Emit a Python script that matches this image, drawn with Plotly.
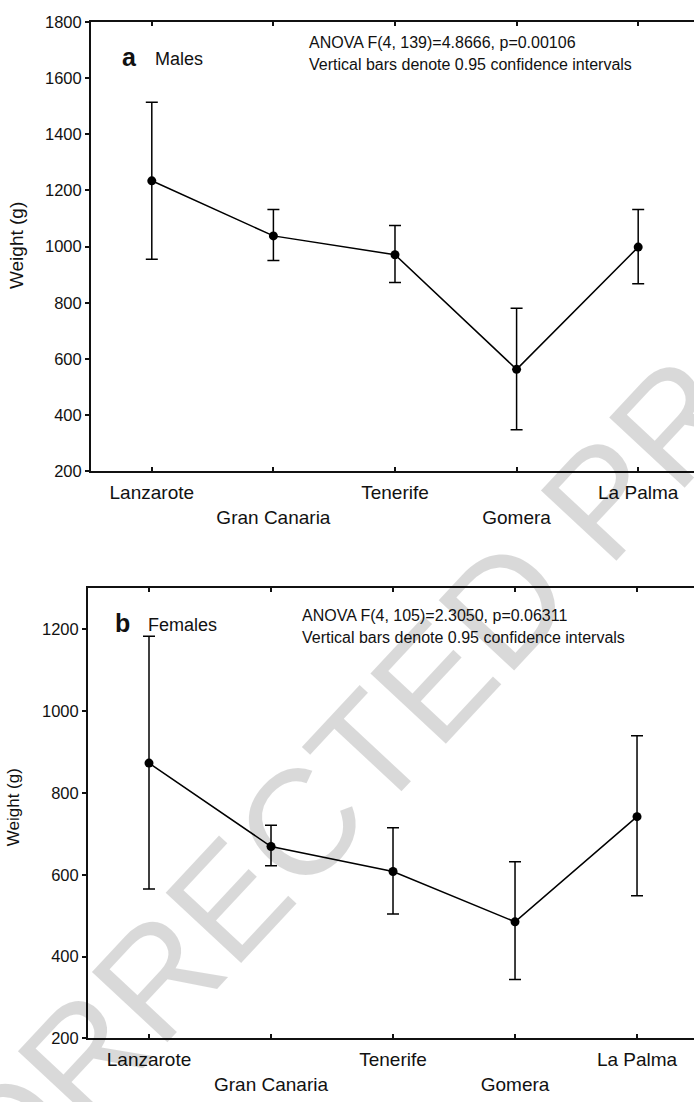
import plotly.graph_objects as go

W, H = 694, 1102

islands = ["Lanzarote", "Gran Canaria", "Tenerife", "Gomera", "La Palma"]
tick_text = ["Lanzarote", " <br>Gran Canaria", "Tenerife", " <br>Gomera", "La Palma"]
x_pos = [0, 1, 2, 3, 4]

males_mean = [1234, 1038, 971, 563, 998]
males_upper = [1514, 1132, 1075, 780, 1132]
males_lower = [955, 950, 872, 348, 868]

females_mean = [873, 669, 608, 485, 742]
females_upper = [1183, 721, 715, 632, 940]
females_lower = [565, 622, 504, 344, 549]

y_ticks_top = [200, 400, 600, 800, 1000, 1200, 1400, 1600, 1800]
y_ticks_bottom = [200, 400, 600, 800, 1000, 1200]

FONT = "Arial, Liberation Sans, sans-serif"


def px(x):
    return x / W


def py(y):
    return 1 - y / H


def trace(mean, upper, lower, xa, ya):
    return go.Scatter(
        x=x_pos, y=mean, xaxis=xa, yaxis=ya,
        mode="lines+markers",
        line=dict(color="black", width=1.5),
        marker=dict(color="black", size=9, symbol="circle"),
        error_y=dict(
            type="data", symmetric=False,
            array=[u - m for u, m in zip(upper, mean)],
            arrayminus=[m - l for m, l in zip(mean, lower)],
            color="black", thickness=1.5, width=6,
        ),
        showlegend=False, hoverinfo="skip",
    )


fig = go.Figure()
fig.add_trace(trace(males_mean, males_upper, males_lower, "x", "y"))
fig.add_trace(trace(females_mean, females_upper, females_lower, "x2", "y2"))

xcommon = dict(
    tickmode="array", tickvals=x_pos, ticktext=tick_text,
    ticks="inside", ticklen=4, tickwidth=1.5, tickcolor="#111",
    showline=True, linewidth=2, linecolor="#111", mirror="ticks",
    showgrid=False, zeroline=False, ticklabelstandoff=3,
    tickfont=dict(family=FONT, size=19, color="#111"),
)
ycommon = dict(
    tickmode="array",
    ticks="outside", ticklen=4, tickwidth=1.5, tickcolor="#111",
    showline=True, linewidth=2, linecolor="#111",
    showgrid=False, zeroline=False,
    tickfont=dict(family=FONT, size=16.5, color="#111"),
)

fig.update_layout(
    width=W, height=H,
    margin=dict(l=0, r=0, t=0, b=0),
    paper_bgcolor="white", plot_bgcolor="rgba(0,0,0,0)",
    xaxis=dict(domain=[px(91), 1], range=[-0.5, 4.459], anchor="y", **xcommon),
    yaxis=dict(domain=[py(470), py(13)], range=[200, 1800], anchor="x",
               tickvals=y_ticks_top, **ycommon),
    xaxis2=dict(domain=[px(88), 1], range=[-0.5, 4.467], anchor="y2", **xcommon),
    yaxis2=dict(domain=[py(1046.5), py(589)], range=[200, 1300], anchor="x2",
                tickvals=y_ticks_bottom, **ycommon),
)

ann = []
# watermark
ann.append(dict(text="UNCORRECTED PROOF", x=px(340), y=py(785), xref="paper", yref="paper",
                xanchor="center", yanchor="middle", showarrow=False, textangle=-47,
                font=dict(family=FONT, size=150, color="rgba(0,0,0,0.15)")))


def label(text, x, y, size, bold=False, anchor="left", angle=0):
    t = f"<b>{text}</b>" if bold else text
    ann.append(dict(text=t, x=px(x), y=py(y), xref="paper", yref="paper",
                    xanchor=anchor, yanchor="middle", showarrow=False, textangle=angle,
                    font=dict(family=FONT, size=size, color="#111")))


# panel a
label("a", 120, 49, 25, bold=True)
label("Males", 153, 51, 18)
label("ANOVA F(4, 139)=4.8666, p=0.00106", 307, 34, 16)
label("Vertical bars denote 0.95 confidence intervals", 307, 56.5, 16)
label("Weight (g)", 16, 241, 19, anchor="center", angle=-90)

# panel b
label("b", 113, 624, 25, bold=True)
label("Females", 146, 626, 18)
label("ANOVA F(4, 105)=2.3050, p=0.06311", 300, 617, 16)
label("Vertical bars denote 0.95 confidence intervals", 300, 638.5, 16)
label("Weight (g)", 13.5, 812, 17, anchor="center", angle=-90)

fig.update_layout(annotations=ann)

fig.write_html("out.html")
